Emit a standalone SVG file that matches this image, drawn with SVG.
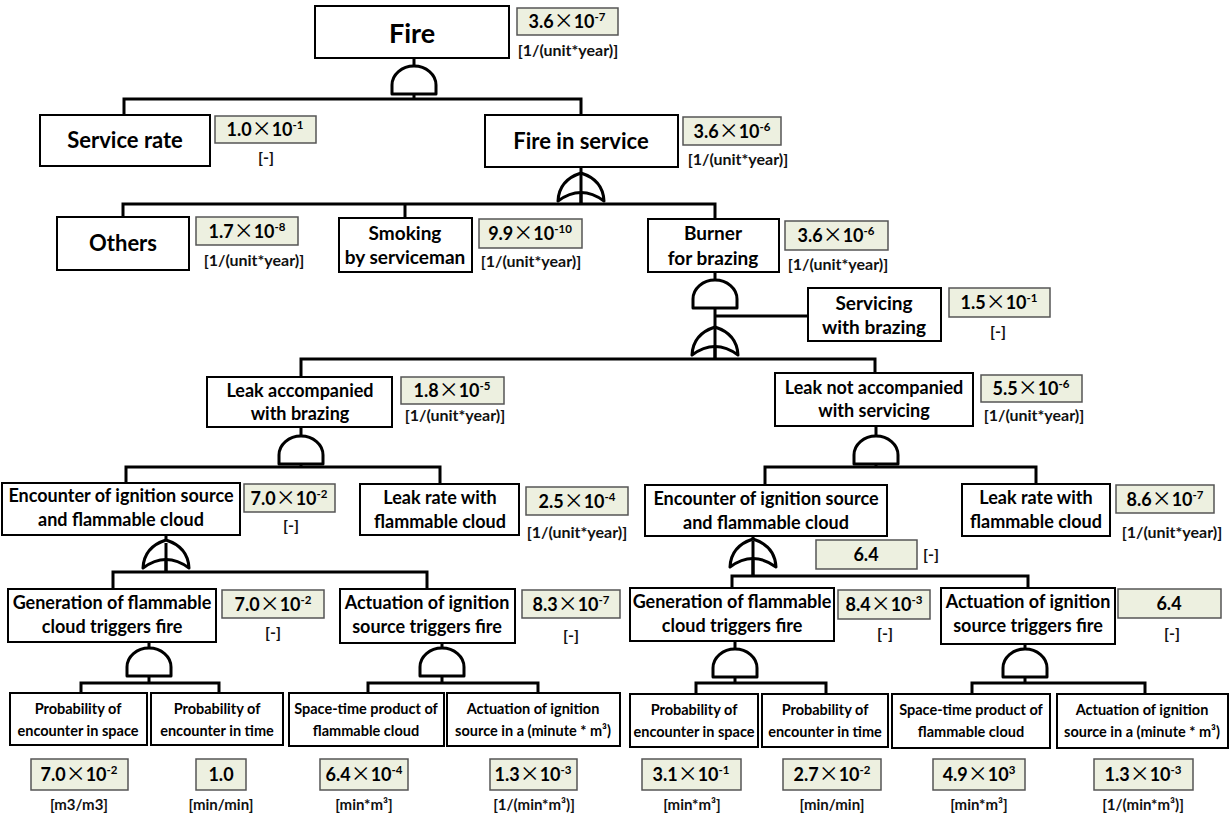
<svg xmlns="http://www.w3.org/2000/svg" width="1232" height="816" viewBox="0 0 1232 816">
<style>
.box{fill:#fff;stroke:#000;stroke-width:2}
.val{fill:#EDF0E0;stroke:#555;stroke-width:1.5}
.ln{fill:none;stroke:#000;stroke-width:3}
.gate{fill:#fff;stroke:#000;stroke-width:3;stroke-linejoin:round}
text{font-family:Lato,"Liberation Sans",sans-serif;font-weight:bold;text-anchor:middle;fill:#000}
.t27{font-size:27px}
.t22{font-size:22px}
.t19{font-size:19px}
.t18{font-size:18px}
.t14{font-size:14.5px}
.v{font-size:18px}
.u{font-size:16px;fill:#111}
.ub{font-size:15px;fill:#111}
.x{font-family:"Noto Sans CJK JP",sans-serif;font-weight:normal;font-size:20px}
.sup{font-size:11.5px}
</style>
<defs>
<path id="and" class="gate" d="M-22,0 L-22,-9 A22,19 0 0 1 22,-9 L22,0 Z"/>
<path id="or" class="gate" d="M-23,0 Q-22,-21 0,-28 Q22,-21 23,0 Q0,-17 -23,0 Z"/>
</defs>

<g id="connectors">
<path class="ln" d="M414,58 V99 M124,117 V99 H581 V115"/>
<path class="ln" d="M581,167 V204 M123,217 V204 H715 V219 M405,204 V218"/>
<path class="ln" d="M715,272 V359 M715,316 H808 M301,377 V359 H875 V373"/>
<path class="ln" d="M301,427 V467 M126,483 V467 H440 V484"/>
<path class="ln" d="M876,426 V467 M765,485 V467 H1036 V484"/>
<path class="ln" d="M166,535 V572 M113,589 V572 H427 V589"/>
<path class="ln" d="M753,536 V576 M732,588 V576 H1028 V588"/>
<path class="ln" d="M149,642 V683 M81,693 V683 H219 V693"/>
<path class="ln" d="M442,643 V683 M368,693 V683 H538 V693"/>
<path class="ln" d="M735,641 V683 M696,693 V683 H826 V693"/>
<path class="ln" d="M1025,644 V683 M972,693 V683 H1145 V693"/>
</g>

<g id="gates">
<use href="#and" x="414" y="94"/>
<use href="#or" x="581" y="201"/>
<use href="#and" x="715" y="308"/>
<use href="#or" x="715" y="355"/>
<use href="#and" x="301" y="464"/>
<use href="#and" x="876" y="464"/>
<use href="#or" x="166" y="568"/>
<use href="#or" x="753" y="567"/>
<use href="#and" x="149" y="676"/>
<use href="#and" x="442" y="676"/>
<use href="#and" x="735" y="677"/>
<use href="#and" x="1025" y="677"/>
<path class="ln" d="M581,174 V204 M715,328 V359 M166,543 V572 M753,541 V576"/>
</g>

<g id="n-fire">
<rect class="box" x="315" y="6" width="194" height="52"/>
<text class="t27" x="412" y="43">Fire</text>
<rect class="val" x="517" y="8" width="101" height="27"/>
<text class="v" x="567" y="28">3.6<tspan class="x">×</tspan>10<tspan class="sup" dy="-7">-7</tspan></text>
<text class="u" x="568" y="56">[1/(unit*year)]</text>
</g>

<g id="n-service-rate">
<rect class="box" x="40" y="115" width="170" height="51"/>
<text class="t22" x="125" y="148">Service rate</text>
<rect class="val" x="215" y="116" width="101" height="27"/>
<text class="v" x="265" y="136">1.0<tspan class="x">×</tspan>10<tspan class="sup" dy="-7">-1</tspan></text>
<text class="u" x="266" y="163">[-]</text>
</g>

<g id="n-fire-in-service">
<rect class="box" x="485" y="115" width="193" height="52"/>
<text class="t22" x="581" y="149">Fire in service</text>
<rect class="val" x="683" y="117" width="98" height="28"/>
<text class="v" x="732" y="138">3.6<tspan class="x">×</tspan>10<tspan class="sup" dy="-7">-6</tspan></text>
<text class="u" x="738" y="165">[1/(unit*year)]</text>
</g>

<g id="n-others">
<rect class="box" x="57" y="217" width="132" height="53"/>
<text class="t22" x="123" y="251">Others</text>
<rect class="val" x="196" y="217" width="102" height="28"/>
<text class="v" x="247" y="238">1.7<tspan class="x">×</tspan>10<tspan class="sup" dy="-7">-8</tspan></text>
<text class="u" x="254" y="266">[1/(unit*year)]</text>
</g>

<g id="n-smoking">
<rect class="box" x="339" y="218" width="133" height="54"/>
<text class="t19" x="405" y="240">Smoking</text>
<text class="t19" x="405" y="264">by serviceman</text>
<rect class="val" x="479" y="219" width="103" height="29"/>
<text class="v" x="530" y="240">9.9<tspan class="x">×</tspan>10<tspan class="sup" dy="-7">-10</tspan></text>
<text class="u" x="531" y="267">[1/(unit*year)]</text>
</g>

<g id="n-burner">
<rect class="box" x="648" y="219" width="131" height="53"/>
<text class="t19" x="713" y="240">Burner</text>
<text class="t19" x="713" y="265">for brazing</text>
<rect class="val" x="785" y="221" width="103" height="29"/>
<text class="v" x="836" y="242">3.6<tspan class="x">×</tspan>10<tspan class="sup" dy="-7">-6</tspan></text>
<text class="u" x="838" y="270">[1/(unit*year)]</text>
</g>

<g id="n-servicing">
<rect class="box" x="808" y="288" width="133" height="53"/>
<text class="t19" x="874" y="310">Servicing</text>
<text class="t19" x="874" y="334">with brazing</text>
<rect class="val" x="949" y="288" width="101" height="29"/>
<text class="v" x="999" y="309">1.5<tspan class="x">×</tspan>10<tspan class="sup" dy="-7">-1</tspan></text>
<text class="u" x="998" y="337">[-]</text>
</g>

<g id="n-leak-acc">
<rect class="box" x="207" y="377" width="185" height="50"/>
<text class="t18" x="300" y="397">Leak accompanied</text>
<text class="t18" x="300" y="420">with brazing</text>
<rect class="val" x="401" y="377" width="103" height="27"/>
<text class="v" x="452" y="397">1.8<tspan class="x">×</tspan>10<tspan class="sup" dy="-7">-5</tspan></text>
<text class="u" x="455" y="421">[1/(unit*year)]</text>
</g>

<g id="n-leak-not">
<rect class="box" x="775" y="373" width="198" height="53"/>
<text class="t18" x="874" y="394">Leak not accompanied</text>
<text class="t18" x="874" y="417">with servicing</text>
<rect class="val" x="981" y="375" width="101" height="27"/>
<text class="v" x="1031" y="395">5.5<tspan class="x">×</tspan>10<tspan class="sup" dy="-7">-6</tspan></text>
<text class="u" x="1034" y="421">[1/(unit*year)]</text>
</g>

<g id="n-enc-l">
<rect class="box" x="2" y="483" width="238" height="52"/>
<text class="t18" x="121" y="502">Encounter of ignition source</text>
<text class="t18" x="121" y="526">and flammable cloud</text>
<rect class="val" x="244" y="484" width="91" height="28"/>
<text class="v" x="289" y="505">7.0<tspan class="x">×</tspan>10<tspan class="sup" dy="-7">-2</tspan></text>
<text class="u" x="291" y="531">[-]</text>
</g>

<g id="n-leakrate-l">
<rect class="box" x="360" y="484" width="159" height="51"/>
<text class="t18" x="440" y="504">Leak rate with</text>
<text class="t18" x="440" y="528">flammable cloud</text>
<rect class="val" x="526" y="487" width="102" height="28"/>
<text class="v" x="577" y="508">2.5<tspan class="x">×</tspan>10<tspan class="sup" dy="-7">-4</tspan></text>
<text class="u" x="577" y="538">[1/(unit*year)]</text>
</g>

<g id="n-enc-r">
<rect class="box" x="645" y="485" width="242" height="51"/>
<text class="t18" x="766" y="505">Encounter of ignition source</text>
<text class="t18" x="766" y="529">and flammable cloud</text>
<rect class="val" x="816" y="540" width="101" height="29"/>
<text class="v" x="866" y="561">6.4</text>
<text class="u" x="931" y="560">[-]</text>
</g>

<g id="n-leakrate-r">
<rect class="box" x="962" y="484" width="148" height="52"/>
<text class="t18" x="1036" y="504">Leak rate with</text>
<text class="t18" x="1036" y="528">flammable cloud</text>
<rect class="val" x="1116" y="485" width="98" height="28"/>
<text class="v" x="1165" y="506">8.6<tspan class="x">×</tspan>10<tspan class="sup" dy="-7">-7</tspan></text>
<text class="u" x="1172" y="538">[1/(unit*year)]</text>
</g>

<g id="n-gen-l">
<rect class="box" x="8" y="589" width="208" height="53"/>
<text class="t18" x="112" y="609">Generation of flammable</text>
<text class="t18" x="112" y="633">cloud triggers fire</text>
<rect class="val" x="222" y="590" width="102" height="28"/>
<text class="v" x="273" y="611">7.0<tspan class="x">×</tspan>10<tspan class="sup" dy="-7">-2</tspan></text>
<text class="u" x="273" y="638">[-]</text>
</g>

<g id="n-act-l">
<rect class="box" x="340" y="589" width="175" height="54"/>
<text class="t18" x="427" y="609">Actuation of ignition</text>
<text class="t18" x="427" y="633">source triggers fire</text>
<rect class="val" x="522" y="590" width="98" height="28"/>
<text class="v" x="571" y="611">8.3<tspan class="x">×</tspan>10<tspan class="sup" dy="-7">-7</tspan></text>
<text class="u" x="571" y="641">[-]</text>
</g>

<g id="n-gen-r">
<rect class="box" x="630" y="588" width="204" height="53"/>
<text class="t18" x="732" y="608">Generation of flammable</text>
<text class="t18" x="732" y="632">cloud triggers fire</text>
<rect class="val" x="838" y="590" width="92" height="29"/>
<text class="v" x="884" y="611">8.4<tspan class="x">×</tspan>10<tspan class="sup" dy="-7">-3</tspan></text>
<text class="u" x="885" y="639">[-]</text>
</g>

<g id="n-act-r">
<rect class="box" x="941" y="588" width="174" height="56"/>
<text class="t18" x="1028" y="608">Actuation of ignition</text>
<text class="t18" x="1028" y="632">source triggers fire</text>
<rect class="val" x="1118" y="589" width="103" height="29"/>
<text class="v" x="1169" y="610">6.4</text>
<text class="u" x="1172" y="639">[-]</text>
</g>

<g id="n-pspace-l">
<rect class="box" x="10" y="693" width="137" height="52"/>
<text class="t14" x="78" y="714">Probability of</text>
<text class="t14" x="78" y="736">encounter in space</text>
<rect class="val" x="31" y="759" width="97" height="31"/>
<text class="v" x="79" y="781">7.0<tspan class="x">×</tspan>10<tspan class="sup" dy="-7">-2</tspan></text>
<text class="ub" x="79" y="810">[m3/m3]</text>
</g>

<g id="n-ptime-l">
<rect class="box" x="151" y="693" width="132" height="52"/>
<text class="t14" x="217" y="714">Probability of</text>
<text class="t14" x="217" y="736">encounter in time</text>
<rect class="val" x="196" y="759" width="50" height="31"/>
<text class="v" x="221" y="781">1.0</text>
<text class="ub" x="221" y="810">[min/min]</text>
</g>

<g id="n-st-l">
<rect class="box" x="289" y="693" width="155" height="53"/>
<text class="t14" x="366" y="714">Space-time product of</text>
<text class="t14" x="366" y="736">flammable cloud</text>
<rect class="val" x="320" y="759" width="88" height="31"/>
<text class="v" x="364" y="781">6.4<tspan class="x">×</tspan>10<tspan class="sup" dy="-7">-4</tspan></text>
<text class="ub" x="364" y="810">[min*m³]</text>
</g>

<g id="n-ai-l">
<rect class="box" x="447" y="693" width="173" height="53"/>
<text class="t14" x="533" y="714">Actuation of ignition</text>
<text class="t14" x="533" y="736">source in a (minute * m³)</text>
<rect class="val" x="490" y="759" width="87" height="31"/>
<text class="v" x="533" y="781">1.3<tspan class="x">×</tspan>10<tspan class="sup" dy="-7">-3</tspan></text>
<text class="ub" x="534" y="810">[1/(min*m³)]</text>
</g>

<g id="n-pspace-r">
<rect class="box" x="630" y="694" width="128" height="53"/>
<text class="t14" x="694" y="715">Probability of</text>
<text class="t14" x="694" y="737">encounter in space</text>
<rect class="val" x="642" y="759" width="99" height="31"/>
<text class="v" x="691" y="781">3.1<tspan class="x">×</tspan>10<tspan class="sup" dy="-7">-1</tspan></text>
<text class="ub" x="692" y="810">[min*m³]</text>
</g>

<g id="n-ptime-r">
<rect class="box" x="762" y="694" width="126" height="53"/>
<text class="t14" x="825" y="715">Probability of</text>
<text class="t14" x="825" y="737">encounter in time</text>
<rect class="val" x="783" y="759" width="98" height="31"/>
<text class="v" x="832" y="781">2.7<tspan class="x">×</tspan>10<tspan class="sup" dy="-7">-2</tspan></text>
<text class="ub" x="832" y="810">[min/min]</text>
</g>

<g id="n-st-r">
<rect class="box" x="892" y="694" width="158" height="54"/>
<text class="t14" x="971" y="715">Space-time product of</text>
<text class="t14" x="971" y="737">flammable cloud</text>
<rect class="val" x="933" y="759" width="92" height="31"/>
<text class="v" x="979" y="781">4.9<tspan class="x">×</tspan>10<tspan class="sup" dy="-7">3</tspan></text>
<text class="ub" x="979" y="810">[min*m³]</text>
</g>

<g id="n-ai-r">
<rect class="box" x="1057" y="694" width="171" height="54"/>
<text class="t14" x="1142" y="715">Actuation of ignition</text>
<text class="t14" x="1142" y="737">source in a (minute * m³)</text>
<rect class="val" x="1094" y="759" width="99" height="31"/>
<text class="v" x="1143" y="781">1.3<tspan class="x">×</tspan>10<tspan class="sup" dy="-7">-3</tspan></text>
<text class="ub" x="1143" y="810">[1/(min*m³)]</text>
</g>
</svg>
